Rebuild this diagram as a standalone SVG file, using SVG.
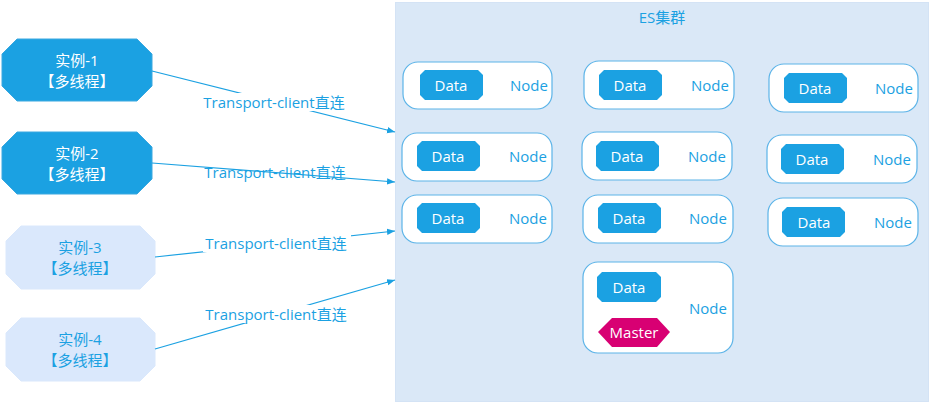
<svg xmlns="http://www.w3.org/2000/svg" width="930" height="403" viewBox="0 0 930 403">
<defs>
<style>
text{font-family:"Open Sans","Noto Sans CJK SC",sans-serif;text-anchor:middle;dominant-baseline:central}
.inst{fill:#1ba1e2;stroke:#3aa8e0;stroke-width:1}
.inst-t{fill:#fff;font-size:15px}
.instl{fill:#dae8fc;stroke:#dae8fc}
.instl-t{fill:#1ba1e2;font-size:15px}
.node{fill:#fff;stroke:#5cb4e8;stroke-width:1.2}
.data{fill:#1ba1e2}
.data-t{fill:#fff;font-size:15px}
.node-t{fill:#1ba1e2;font-size:15px}
.edge{stroke:#1ba1e2;stroke-width:1.2;fill:none;marker-end:url(#ah)}
.lbl{fill:#1ba1e2;font-size:15px}
</style>
<marker id="ah" viewBox="0 0 10 10" refX="10" refY="5" markerWidth="8" markerHeight="8" markerUnits="userSpaceOnUse" orient="auto">
<path d="M0,1 L10,5 L0,9 z" fill="#1ba1e2"/>
</marker>
</defs>
<rect x="0" y="0" width="930" height="403" fill="#fff"/>
<g id="cluster">
<rect x="395.5" y="2.5" width="533" height="399" fill="#dae8f7" stroke="#d4e3f5"/>
<text x="662" y="17" class="node-t">ES集群</text>
</g>
<g id="inst1">
<polygon class="inst" points="17,39 137,39 152,54 152,86 137,101 17,101 2,86 2,54"/>
<text x="77" y="60" class="inst-t">实例-1</text>
<text x="77" y="81" class="inst-t">【多线程】</text>
</g>
<g id="inst2">
<polygon class="inst" points="17,132 137,132 152,147 152,179 137,194 17,194 2,179 2,147"/>
<text x="77" y="153" class="inst-t">实例-2</text>
<text x="77" y="174" class="inst-t">【多线程】</text>
</g>
<g id="inst3">
<polygon class="instl" points="21,226 140,226 155,241 155,274 140,289 21,289 6,274 6,241"/>
<text x="80" y="247" class="instl-t">实例-3</text>
<text x="80" y="268" class="instl-t">【多线程】</text>
</g>
<g id="inst4">
<polygon class="instl" points="21,318 140,318 155,333 155,366 140,381 21,381 6,366 6,333"/>
<text x="80" y="339" class="instl-t">实例-4</text>
<text x="80" y="360" class="instl-t">【多线程】</text>
</g>
<g id="connectors">
<line class="edge" x1="152" y1="71" x2="395" y2="132"/>
<line class="edge" x1="152" y1="163" x2="395" y2="182"/>
<line class="edge" x1="155" y1="257" x2="395" y2="231"/>
<line class="edge" x1="155" y1="349" x2="395" y2="280"/>
<rect x="200" y="93" width="148" height="18" fill="#fff"/>
<rect x="203" y="234" width="148" height="18" fill="#fff"/>
<rect x="203" y="305" width="148" height="18" fill="#fff"/>
<text x="274" y="102" class="lbl">Transport-client直连</text>
<text x="275" y="172" class="lbl">Transport-client直连</text>
<text x="276" y="243" class="lbl">Transport-client直连</text>
<text x="276" y="314" class="lbl">Transport-client直连</text>
</g>
<g id="n1"><rect class="node" x="403" y="62" width="149" height="47" rx="15"/><polygon class="data" points="425,70 478,70 483,75 483,95 478,100 425,100 420,95 420,75"/><text x="451" y="85" class="data-t">Data</text><text x="529" y="85" class="node-t">Node</text></g>
<g id="n2"><rect class="node" x="402" y="133" width="150" height="48" rx="15"/><polygon class="data" points="422,141 475,141 480,146 480,166 475,171 422,171 417,166 417,146"/><text x="448" y="156" class="data-t">Data</text><text x="528" y="156" class="node-t">Node</text></g>
<g id="n3"><rect class="node" x="402" y="195" width="150" height="48" rx="15"/><polygon class="data" points="422,203 475,203 480,208 480,228 475,233 422,233 417,228 417,208"/><text x="448" y="218" class="data-t">Data</text><text x="528" y="218" class="node-t">Node</text></g>
<g id="n4"><rect class="node" x="584" y="61" width="150" height="48" rx="15"/><polygon class="data" points="604,70 657,70 662,75 662,95 657,100 604,100 599,95 599,75"/><text x="630" y="85" class="data-t">Data</text><text x="710" y="85" class="node-t">Node</text></g>
<g id="n5"><rect class="node" x="582" y="132" width="150" height="48" rx="15"/><polygon class="data" points="601,141 654,141 659,146 659,166 654,171 601,171 596,166 596,146"/><text x="627" y="156" class="data-t">Data</text><text x="707" y="156" class="node-t">Node</text></g>
<g id="n6"><rect class="node" x="583" y="195" width="150" height="48" rx="15"/><polygon class="data" points="603,203 656,203 661,208 661,228 656,233 603,233 598,228 598,208"/><text x="629" y="218" class="data-t">Data</text><text x="708" y="218" class="node-t">Node</text></g>
<g id="n7"><rect class="node" x="769" y="64" width="149" height="48" rx="15"/><polygon class="data" points="789,73 842,73 847,78 847,98 842,103 789,103 784,98 784,78"/><text x="815" y="88" class="data-t">Data</text><text x="894" y="88" class="node-t">Node</text></g>
<g id="n8"><rect class="node" x="767" y="135" width="150" height="48" rx="15"/><polygon class="data" points="786,144 839,144 844,149 844,169 839,174 786,174 781,169 781,149"/><text x="812" y="159" class="data-t">Data</text><text x="892" y="159" class="node-t">Node</text></g>
<g id="n9"><rect class="node" x="768" y="198" width="150" height="48" rx="15"/><polygon class="data" points="787,207 840,207 845,212 845,232 840,237 787,237 782,232 782,212"/><text x="814" y="222" class="data-t">Data</text><text x="893" y="222" class="node-t">Node</text></g>
<g id="n10"><rect class="node" x="583" y="262" width="150" height="91" rx="15"/><polygon class="data" points="602,272 656,272 661,277 661,297 656,302 602,302 597,297 597,277"/><text x="629" y="287" class="data-t">Data</text><polygon points="598,332 612,318 657,318 670,332 657,347 612,347" fill="#d80073"/><text x="634" y="332" class="data-t">Master</text><text x="708" y="308" class="node-t">Node</text></g>
</svg>
